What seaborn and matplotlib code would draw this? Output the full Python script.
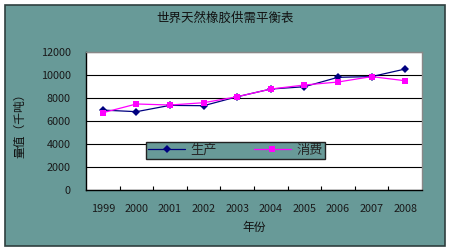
import matplotlib
matplotlib.use("Agg")
import matplotlib.pyplot as plt
import seaborn as sns
import pandas as pd
from matplotlib.patches import Rectangle

years = ["1999", "2000", "2001", "2002", "2003", "2004", "2005", "2006", "2007", "2008"]
production = [6950, 6810, 7360, 7330, 8110, 8780, 8980, 9800, 9860, 10520]
consumption = [6720, 7480, 7390, 7590, 8110, 8780, 9130, 9390, 9860, 9500]
series_names = ["生产", "消费"]
title = "世界天然橡胶供需平衡表"
xlabel = "年份"
ylabel = "量值（千吨）"

sns.set_theme(style="white")
plt.rcParams['font.family'] = ['Noto Sans CJK SC', 'DejaVu Sans']

teal = "#689A98"
df = pd.DataFrame({
    "year": years * 2,
    "value": production + consumption,
    "series": [series_names[0]] * len(years) + [series_names[1]] * len(years),
})

fig = plt.figure(figsize=(4.5, 2.5), dpi=100, facecolor="white")
fig.patches.append(Rectangle((4.5 / 450, 1 - 245.5 / 250), 440 / 450, 241 / 250,
                             transform=fig.transFigure, facecolor=teal,
                             edgecolor="#2f3f3f", linewidth=1.2, zorder=-10))
ax = fig.add_axes([86 / 450, 1 - 190 / 250, 336 / 450, 138 / 250])
ax.set_facecolor("white")

sns.lineplot(data=df, x="year", y="value", hue="series", style="series",
             palette={series_names[0]: "#000080", series_names[1]: "#FF00FF"},
             markers={series_names[0]: "D", series_names[1]: "s"},
             dashes=False, markersize=4.5, linewidth=0.9, markeredgewidth=0,
             sort=False, ax=ax)

ax.set_xlim(-0.5, len(years) - 0.5)
ax.set_ylim(0, 12000)
ax.set_yticks(range(0, 12001, 2000))
ax.yaxis.grid(True, color="black", linewidth=0.8)
ax.set_axisbelow(True)
ax.set_xticks(range(len(years)))
ax.set_xticklabels(years)
ax.set_xticks([i + 0.5 for i in range(len(years) - 1)], minor=True)
ax.tick_params(axis="x", which="major", length=0, pad=10, labelsize=7.8, labelcolor="#1a1a1a")
ax.tick_params(axis="x", which="minor", length=3, direction="in", color="black", width=0.8, bottom=True)
ax.tick_params(axis="y", length=0, pad=11, labelsize=7.8, labelcolor="#1a1a1a")
for s in ["top", "right"]:
    ax.spines[s].set_color("#888888")
    ax.spines[s].set_linewidth(1.0)
for s in ["left", "bottom"]:
    ax.spines[s].set_color("black")
    ax.spines[s].set_linewidth(1.0)

ax.set_xlabel("")
ax.set_ylabel("")
fig.text(254 / 450, 1 - 227 / 250, xlabel, fontsize=8.5, color="#111111", ha="center", va="center")
fig.text(20 / 450, 1 - 123 / 250, ylabel, rotation=90, fontsize=8.5,
         color="#111111", ha="center", va="center")
fig.text(0.5, 1 - 18 / 250, title, fontsize=9, color="#111111", ha="center", va="center")

handles, labels = ax.get_legend_handles_labels()
ax.legend(handles, labels, loc="center", ncol=2,
          bbox_to_anchor=(235.5 / 450, 1 - 150.5 / 250), bbox_transform=fig.transFigure,
          frameon=True, fancybox=False, facecolor=teal, edgecolor="#222222",
          framealpha=1, fontsize=9.5, handlelength=2.8, columnspacing=2.8,
          borderpad=0.15, handletextpad=0.4, title=None)

fig.savefig("out.png", dpi=100, facecolor="white")
